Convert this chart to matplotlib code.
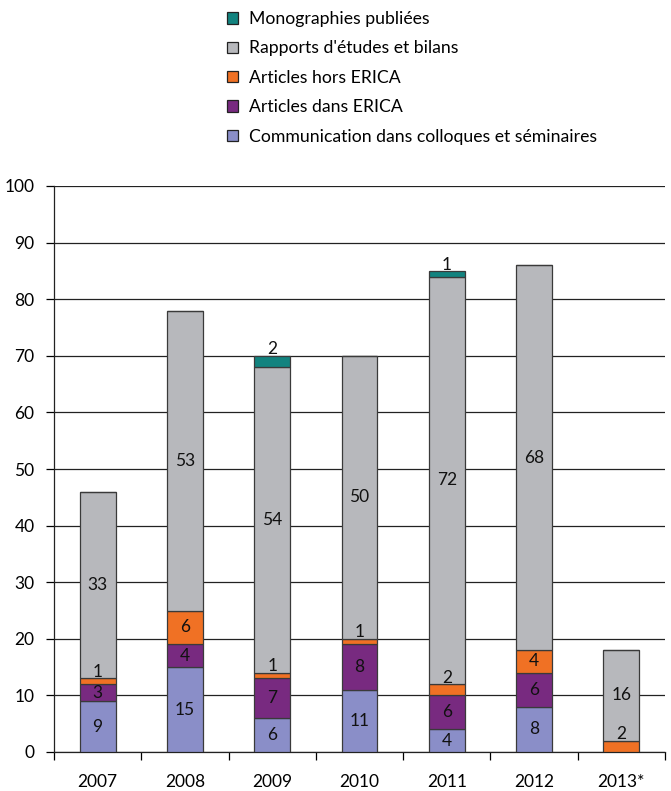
import numpy as np
import matplotlib.pyplot as plt
from matplotlib.patches import Patch

plt.rcParams['font.family'] = ['Lato', 'DejaVu Sans']

years = ['2007', '2008', '2009', '2010', '2011', '2012', '2013*']
communication = [9, 15, 6, 11, 4, 8, 0]
articles_erica = [3, 4, 7, 8, 6, 6, 0]
articles_hors = [1, 6, 1, 1, 2, 4, 2]
rapports = [33, 53, 54, 50, 72, 68, 16]
monographies = [0, 0, 2, 0, 1, 0, 0]

series = [
    ('Communication dans colloques et séminaires', communication, '#8A8EC8'),
    ('Articles dans ERICA', articles_erica, '#782A80'),
    ('Articles hors ERICA', articles_hors, '#F07124'),
    ("Rapports d'études et bilans", rapports, '#B7B8BC'),
    ('Monographies publiées', monographies, '#12837F'),
]

fig = plt.figure(figsize=(6.71, 7.91), dpi=100)
ax = fig.add_axes([54 / 671, 39 / 791, 611 / 671, 566 / 791])

x = np.arange(len(years))
width = 0.41
bottom = np.zeros(len(years))
for name, vals, col in series:
    vals = np.array(vals, dtype=float)
    ax.bar(x, vals, width, bottom=bottom, color=col, edgecolor='#3a3a3a',
           linewidth=0.9, zorder=3, label=name)
    for i, v in enumerate(vals):
        if v <= 0:
            continue
        if v <= 2:
            ax.text(x[i], bottom[i] + v - 0.3, f'{int(v)}', ha='center', va='bottom',
                    fontsize=12.5, color='#111111', zorder=4)
        else:
            ax.text(x[i], bottom[i] + v / 2, f'{int(v)}', ha='center', va='center',
                    fontsize=12.5, color='#111111', zorder=4)
    bottom += vals

ax.set_xlim(-0.5, len(years) - 0.5)
ax.set_ylim(0, 100)
ax.set_yticks(range(0, 101, 10))
ax.yaxis.grid(True, color='#222222', linewidth=0.9, zorder=0)
ax.set_axisbelow(True)

ax.set_xticks(x)
ax.set_xticklabels(years)
ax.set_xticks(np.arange(-0.5, len(years), 1), minor=True)
ax.tick_params(axis='x', which='major', length=0, pad=16, labelsize=12.5)
ax.tick_params(axis='x', which='minor', length=6, width=0.9, direction='out')
ax.tick_params(axis='y', length=6, width=0.9, pad=8, labelsize=12.5)

for s in ['top', 'right']:
    ax.spines[s].set_visible(False)
for s in ['left', 'bottom']:
    ax.spines[s].set_color('#222222')
    ax.spines[s].set_linewidth(0.9)

handles = [Patch(facecolor=col, edgecolor='#222222', linewidth=0.9, label=name)
           for name, _, col in series[::-1]]
fig.legend(handles=handles, loc='upper left', bbox_to_anchor=(220 / 671, 1 - 4 / 791),
           frameon=False, fontsize=12.7, handlelength=0.62, handleheight=0.62,
           handletextpad=0.6, labelspacing=0.76, borderaxespad=0)

fig.savefig('out.png', dpi=100)
